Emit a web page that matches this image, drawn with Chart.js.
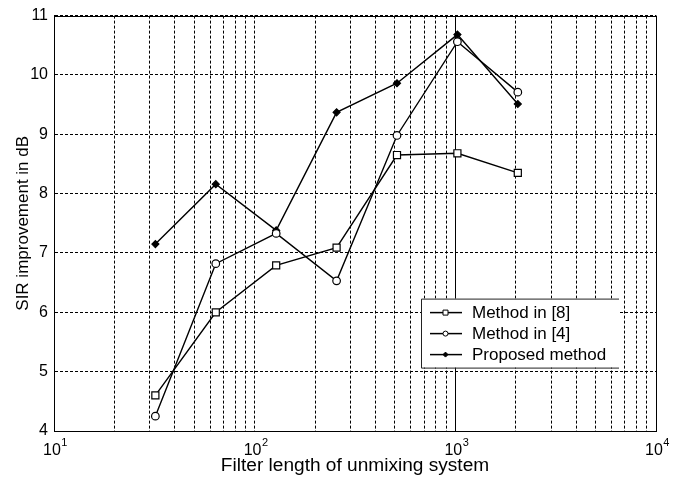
<!DOCTYPE html>
<html>
<head>
<meta charset="utf-8">
<script src="https://cdn.jsdelivr.net/npm/chart.js@4/dist/chart.umd.min.js"></script>
<style>
html, body { margin: 0; padding: 0; background: #fff; }
#wrap { width: 682px; height: 477px; }
</style>
</head>
<body>
<div id="wrap"><canvas id="sirChart" width="682" height="477"></canvas></div>
<script>
'use strict';

// filter lengths (taps) and SIR improvement per method, dB
const filterLengths = [32, 64, 128, 256, 512, 1024, 2048];
const method8 = [4.60, 6.00, 6.79, 7.09, 8.65, 8.68, 8.35];
const method4 = [4.25, 6.82, 7.33, 6.53, 8.98, 10.56, 9.71];
const proposed = [7.15, 8.16, 7.38, 9.37, 9.86, 10.68, 9.51];
const seriesNames = ['Method in [8]', 'Method in [4]', 'Proposed method'];

// axis ticks and titles
const xDecades = [10, 100, 1000, 10000];
const xDecadeExp = ['1', '2', '3', '4'];
const yMin = 4;
const yMax = 11;
const xTitle = 'Filter length of unmixing system';
const yTitle = 'SIR improvement in dB';

const FONT = '"Liberation Sans", Arial, Helvetica, sans-serif';

function toPoints(values) {
    return filterLengths.map((x, i) => ({ x: x, y: values[i] }));
}

// decades plus the 2..9 multiples in between
function logGridTicks() {
    const ticks = [];
    for (let d = 0; d < xDecades.length; d++) {
        ticks.push({ value: xDecades[d], major: true });
        if (d < xDecades.length - 1) {
            for (let m = 2; m <= 9; m++) {
                ticks.push({ value: xDecades[d] * m });
            }
        }
    }
    return ticks;
}

function drawMarker(ctx, style, x, y, r, filled) {
    ctx.beginPath();
    if (style === 'rect') {
        ctx.rect(x - r, y - r, 2 * r, 2 * r);
    } else if (style === 'circle') {
        ctx.arc(x, y, r, 0, Math.PI * 2);
    } else {
        ctx.moveTo(x, y - r);
        ctx.lineTo(x + r, y);
        ctx.lineTo(x, y + r);
        ctx.lineTo(x - r, y);
        ctx.closePath();
    }
    ctx.fillStyle = filled ? '#000' : '#fff';
    ctx.fill();
    ctx.stroke();
}

const framePlugin = {
    id: 'frame',
    beforeDatasetsDraw(chart) {
        const ctx = chart.ctx;
        const xs = chart.scales.x;
        const area = chart.chartArea;
        // solid line at 10^3
        const x = Math.round(xs.getPixelForValue(1000)) + 0.5;
        ctx.save();
        ctx.strokeStyle = '#000';
        ctx.lineWidth = 1;
        ctx.beginPath();
        ctx.moveTo(x, area.top);
        ctx.lineTo(x, area.bottom);
        ctx.stroke();
        ctx.restore();
    },
    afterDraw(chart) {
        const ctx = chart.ctx;
        const area = chart.chartArea;
        const xs = chart.scales.x;
        ctx.save();

        // box around the plot
        ctx.strokeStyle = '#000';
        ctx.lineWidth = 1;
        ctx.strokeRect(Math.round(area.left) + 0.5, Math.round(area.top) + 0.5,
            Math.round(area.right - area.left), Math.round(area.bottom - area.top));

        // x tick labels 10^n
        ctx.fillStyle = '#000';
        ctx.textBaseline = 'alphabetic';
        ctx.textAlign = 'left';
        for (let i = 0; i < xDecades.length; i++) {
            const px = xs.getPixelForValue(xDecades[i]);
            ctx.font = '16px ' + FONT;
            const w1 = ctx.measureText('10').width;
            ctx.font = '11px ' + FONT;
            const w2 = ctx.measureText(xDecadeExp[i]).width;
            const start = px - (w1 + w2) / 2 + 1;
            ctx.font = '16px ' + FONT;
            ctx.fillText('10', start, area.bottom + 24);
            ctx.font = '11px ' + FONT;
            ctx.fillText(xDecadeExp[i], start + w1 + 0.5, area.bottom + 15);
        }

        // x axis title, slightly widened
        ctx.save();
        ctx.translate((area.left + area.right) / 2, area.bottom + 40);
        ctx.scale(1.06, 1);
        ctx.font = '18px ' + FONT;
        ctx.textAlign = 'center';
        ctx.fillText(xTitle, 0, 0);
        ctx.restore();

        // legend
        const lx = area.left + 367;
        const ly = area.top + 283;
        const lw = 198;
        const lh = 69;
        ctx.fillStyle = '#fff';
        ctx.fillRect(lx, ly, lw, lh);
        ctx.strokeStyle = '#222';
        ctx.lineWidth = 1;
        ctx.beginPath();
        ctx.moveTo(lx + lw, ly + 0.5);
        ctx.lineTo(lx + 0.5, ly + 0.5);
        ctx.lineTo(lx + 0.5, ly + lh + 0.5);
        ctx.lineTo(lx + lw, ly + lh + 0.5);
        ctx.stroke();

        chart.data.datasets.forEach((ds, i) => {
            const rowY = ly + 14 + i * 21;
            ctx.strokeStyle = '#000';
            ctx.lineWidth = 1.5;
            ctx.beginPath();
            ctx.moveTo(lx + 9, rowY);
            ctx.lineTo(lx + 41, rowY);
            ctx.stroke();
            ctx.lineWidth = 1;
            drawMarker(ctx, ds.pointStyle, lx + 24.5, rowY, ds.pointStyle === 'rectRot' ? 2.5 : 2.5,
                ds.pointStyle === 'rectRot');
            ctx.fillStyle = '#000';
            ctx.font = '17px ' + FONT;
            ctx.textBaseline = 'middle';
            ctx.fillText(ds.label, lx + 51, rowY + 1);
        });

        ctx.restore();
    }
};

const ctx = document.getElementById('sirChart').getContext('2d');
const chart = new Chart(ctx, {
    type: 'line',
    data: {
        datasets: [{
            label: seriesNames[0],
            data: toPoints(method8),
            pointStyle: 'rect',
            pointRadius: 5,
            pointBackgroundColor: '#fff'
        }, {
            label: seriesNames[1],
            data: toPoints(method4),
            pointStyle: 'circle',
            pointRadius: 3.8,
            pointBackgroundColor: '#fff'
        }, {
            label: seriesNames[2],
            data: toPoints(proposed),
            pointStyle: 'rectRot',
            pointRadius: 3.5,
            pointBackgroundColor: '#000'
        }]
    },
    options: {
        responsive: false,
        animation: false,
        devicePixelRatio: 1,
        layout: { padding: { top: 13, right: 26, left: 0, bottom: 0 } },
        elements: {
            line: { borderColor: '#000', borderWidth: 1.4, tension: 0, fill: false },
            point: { borderColor: '#000', borderWidth: 1.2, hoverRadius: 4 }
        },
        plugins: {
            legend: { display: false },
            tooltip: { enabled: false }
        },
        scales: {
            x: {
                type: 'logarithmic',
                min: 10,
                max: 10000,
                afterBuildTicks(scale) { scale.ticks = logGridTicks(); },
                afterFit(scale) { scale.height = 46; },
                ticks: { display: false },
                grid: { color: '#000', lineWidth: 1, drawTicks: false },
                border: { display: true, color: '#000', width: 1, dash: [3, 2] }
            },
            y: {
                min: yMin,
                max: yMax,
                afterFit(scale) { scale.width = 54; },
                ticks: {
                    stepSize: 1,
                    color: '#000',
                    padding: 6,
                    font: { family: FONT, size: 16 }
                },
                grid: { color: '#000', lineWidth: 1, drawTicks: false },
                border: { display: true, color: '#000', width: 1, dash: [3, 2] },
                title: {
                    display: true,
                    text: yTitle,
                    color: '#000',
                    font: { family: FONT, size: 17 },
                    padding: { top: 13, bottom: 13 }
                }
            }
        }
    },
    plugins: [framePlugin]
});
</script>
</body>
</html>
